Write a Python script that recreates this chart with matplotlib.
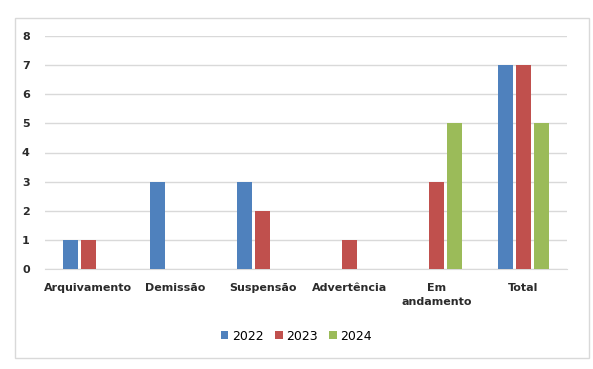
import numpy as np
import matplotlib.pyplot as plt
from matplotlib.patches import Rectangle

categories = ["Arquivamento", "Demissão", "Suspensão", "Advertência", "Em\nandamento", "Total"]
years = ["2022", "2023", "2024"]
v2022 = [1, 3, 3, 0, 0, 7]
v2023 = [1, 0, 2, 1, 3, 7]
v2024 = [0, 0, 0, 0, 5, 5]
colors = ["#4F81BD", "#C0504D", "#9BBB59"]

fig = plt.figure(figsize=(5.93, 3.69), dpi=100)

# outer chart frame
fig.patches.append(Rectangle((15 / 593, 1 - 358 / 369), 574 / 593, 340 / 369,
                             transform=fig.transFigure, facecolor="white",
                             edgecolor="#D9D9D9", linewidth=1, zorder=-5))

ax = fig.add_axes([45 / 593, 1 - 269 / 369, 522 / 593, 233 / 369])
ax.set_facecolor("none")

x = np.arange(len(categories))
width = 0.18
step = 0.205
for i, (vals, year) in enumerate(zip([v2022, v2023, v2024], years)):
    ax.bar(x + (i - 1) * step, vals, width, color=colors[i], label=year, zorder=3)

ax.set_xlim(-0.5, len(categories) - 0.5)
ax.set_ylim(0, 8)
ax.set_yticks(range(0, 9))
ax.set_xticks(x)
ax.set_xticklabels(categories, fontsize=8, fontweight="bold", color="#2b2b2b",
                   linespacing=1.5)
for lbl in ax.get_yticklabels():
    lbl.set_fontsize(8)
    lbl.set_fontweight("bold")
    lbl.set_color("#2b2b2b")
ax.tick_params(axis="both", length=0)
ax.tick_params(axis="y", pad=11)
ax.tick_params(axis="x", pad=10)
ax.grid(axis="y", color="#D9D9D9", linewidth=1, zorder=0)
for side in ["top", "right", "left"]:
    ax.spines[side].set_visible(False)
ax.spines["bottom"].set_color("#D9D9D9")

ax.legend(loc="center", bbox_to_anchor=(0.5, 1 - 336 / 369), bbox_transform=fig.transFigure,
          ncol=3, frameon=False, fontsize=9, handlelength=0.6, handleheight=0.6,
          handletextpad=0.3, columnspacing=0.9)

fig.savefig("out.png", dpi=100)
